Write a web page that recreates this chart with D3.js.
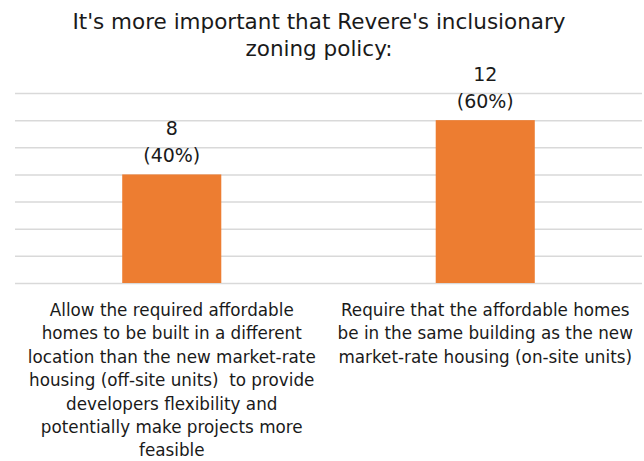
<!DOCTYPE html>
<html>
<head>
<meta charset="utf-8">
<script src="https://cdn.jsdelivr.net/npm/d3@7"></script>
<style>
  html, body { margin: 0; padding: 0; background: #fff; }
  svg { display: block; }
  text { font-family: "DejaVu Sans", sans-serif; fill: #1a1a1a; }
</style>
</head>
<body>
<svg id="chart" width="644" height="461"></svg>
<script>
// Survey responses on the inclusionary zoning policy
const titleLines = ["It's more important that Revere's inclusionary", "zoning policy:"];
const categories = ["off-site", "on-site"];
const categoryLabels = [
  ["Allow the required affordable", "homes to be built in a different", "location than the new market-rate",
   "housing (off-site units)  to provide", "developers flexibility and", "potentially make projects more", "feasible"],
  ["Require that the affordable homes", "be in the same building as the new", "market-rate housing (on-site units)"]
];
const counts = [8, 12];
const percents = [40, 60];
const yTicks = [0, 2, 4, 6, 8, 10, 12, 14];

const svg = d3.select("#chart");
const plot = { left: 15, right: 642, top: 93, bottom: 283 };

const x = d3.scaleBand()
  .domain(categories)
  .range([plot.left, plot.right])
  .paddingInner(0.684)
  .paddingOuter(0.342);

const y = d3.scaleLinear()
  .domain([0, 14])
  .range([plot.bottom, plot.top]);

// Horizontal gridlines
const yAxis = d3.axisLeft(y)
  .tickValues(yTicks)
  .tickSize(-(plot.right - plot.left))
  .tickFormat("");
const gy = svg.append("g")
  .attr("transform", `translate(${plot.left},0)`)
  .call(yAxis);
gy.select(".domain").remove();
gy.selectAll(".tick line").attr("stroke", "#d9d9d9").attr("stroke-width", 1.5);

// Bars
svg.append("g").selectAll("rect")
  .data(categories)
  .join("rect")
  .attr("x", d => x(d))
  .attr("width", x.bandwidth())
  .attr("y", (d, i) => y(counts[i]))
  .attr("height", (d, i) => y(0) - y(counts[i]))
  .attr("fill", "#ed7d31");

// Value labels: count over percentage
const labels = svg.append("g").selectAll("text")
  .data(categories)
  .join("text")
  .attr("text-anchor", "middle")
  .attr("font-size", 19)
  .attr("x", d => x(d) + x.bandwidth() / 2)
  .attr("y", (d, i) => y(counts[i]) - 39);
labels.append("tspan").text((d, i) => counts[i]);
labels.append("tspan")
  .attr("x", d => x(d) + x.bandwidth() / 2)
  .attr("dy", 27)
  .text((d, i) => `(${percents[i]}%)`);

// Category labels below the axis
svg.append("g").selectAll("text")
  .data(categories)
  .join("text")
  .attr("text-anchor", "middle")
  .attr("font-size", 16.8)
  .attr("y", 316)
  .each(function (d, i) {
    const cx = x(d) + x.bandwidth() / 2;
    d3.select(this).selectAll("tspan")
      .data(categoryLabels[i])
      .join("tspan")
      .attr("x", cx)
      .attr("dy", (t, j) => j === 0 ? 0 : 23.4)
      .style("white-space", "pre")
      .text(t => t);
  });

// Title
svg.append("text")
  .attr("text-anchor", "middle")
  .attr("font-size", 21.5)
  .attr("y", 28.5)
  .selectAll("tspan")
  .data(titleLines)
  .join("tspan")
  .attr("x", 319)
  .attr("dy", (t, j) => j === 0 ? 0 : 27)
  .text(t => t);
</script>
</body>
</html>
